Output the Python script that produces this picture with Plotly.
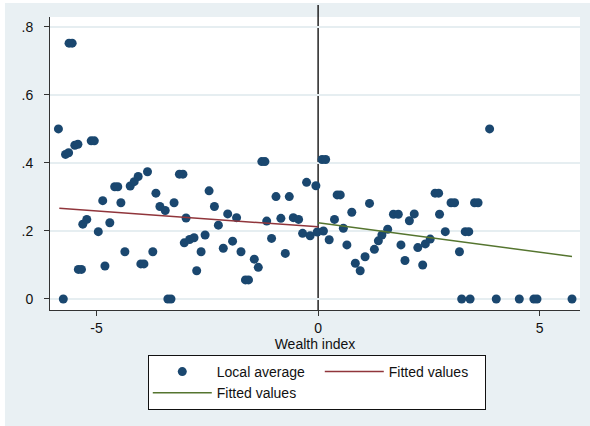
import plotly.graph_objects as go

# Local averages (wealth index, share)
local_x = [-5.86, -5.62, -5.55, -5.75, -5.70, -5.63, -5.49, -5.42, -5.12, -5.05,
           -5.41, -5.34, -5.31, -5.22, -4.96, -4.70, -4.86, -4.81, -4.59, -4.52,
           -4.45, -4.36, -4.24, -4.15, -4.06, -3.85, -4.00, -3.93, -3.73, -3.66,
           -3.57, -3.45, -3.25, -3.13, -3.05, -3.39, -3.32, -2.98, -3.02, -2.90,
           -2.80, -2.74, -2.64, -2.55, -2.46, -2.34, -2.25, -2.14, -2.04, -1.93,
           -1.84, -1.74, -1.64, -1.57, -1.44, -1.35, -1.27, -1.20, -1.16, -1.05,
           -0.95, -0.84, -0.74, -0.65, -0.56, -0.44, -0.35, -0.18, -0.26, -0.05,
           -0.02, 0.12, 0.09, 0.17, 0.25, 0.37, 0.43, 0.50, 0.57, 0.65,
           0.76, 0.84, 0.95, 1.06, 1.16, 1.27, 1.36, 1.44, 1.57, 1.70,
           1.81, 1.87, 1.96, 2.06, 2.17, 2.25, 2.36, 2.42, 2.53, 2.64,
           2.72, 2.74, 2.87, 3.00, 3.08, 3.53, 3.61, 3.32, 3.40, 3.19,
           3.87, 3.24, 3.43, 4.02, 4.54, 4.87, 4.94, 5.73]
local_y = [0.500, 0.752, 0.752, 0.000, 0.425, 0.430, 0.452, 0.455, 0.465, 0.465,
           0.087, 0.087, 0.220, 0.234, 0.198, 0.224, 0.289, 0.097, 0.330, 0.330,
           0.283, 0.139, 0.332, 0.345, 0.360, 0.374, 0.103, 0.103, 0.139, 0.311,
           0.272, 0.260, 0.283, 0.367, 0.367, 0.000, 0.000, 0.238, 0.165, 0.175,
           0.180, 0.083, 0.139, 0.188, 0.318, 0.272, 0.217, 0.149, 0.250, 0.170,
           0.239, 0.139, 0.056, 0.056, 0.117, 0.093, 0.404, 0.404, 0.229, 0.178,
           0.301, 0.237, 0.134, 0.301, 0.239, 0.234, 0.193, 0.186, 0.343, 0.333,
           0.197, 0.200, 0.410, 0.410, 0.174, 0.234, 0.306, 0.306, 0.208, 0.159,
           0.255, 0.105, 0.083, 0.124, 0.281, 0.146, 0.171, 0.188, 0.205, 0.249,
           0.249, 0.159, 0.113, 0.230, 0.250, 0.151, 0.100, 0.162, 0.176, 0.311,
           0.311, 0.249, 0.198, 0.283, 0.283, 0.283, 0.283, 0.198, 0.198, 0.139,
           0.500, 0.000, 0.000, 0.000, 0.000, 0.000, 0.000, 0.000]

# Fitted values (left and right of the cutoff)
fit_left_x = [-5.84, 0.0]
fit_left_y = [0.267, 0.212]
fit_right_x = [0.0, 5.73]
fit_right_y = [0.224, 0.125]

x_tickvals = [-5, 0, 5]
x_ticktext = ["-5", "0", "5"]
y_tickvals = [0, 0.2, 0.4, 0.6, 0.8]
y_ticktext = ["0", ".2", ".4", ".6", ".8"]
cutoff = 0

FONT = "Liberation Sans, Arial, sans-serif"
BG = "#E9F0F3"

fig = go.Figure()
fig.add_trace(go.Scatter(
    x=local_x, y=local_y, mode="markers", name="Local average",
    legendgroup="a",
    marker=dict(color="#1A476F", size=9, symbol="circle", line=dict(width=0)),
))
fig.add_trace(go.Scatter(
    x=fit_left_x, y=fit_left_y, mode="lines", name="Fitted values",
    legendgroup="b", legendwidth=91,
    line=dict(color="#90353B", width=1.5),
))
fig.add_trace(go.Scatter(
    x=fit_right_x, y=fit_right_y, mode="lines", name="Fitted values",
    legendgroup="a",
    line=dict(color="#55752F", width=1.5),
))

fig.update_layout(
    width=590, height=426,
    margin=dict(l=50, r=10, t=17, b=116, autoexpand=False),
    paper_bgcolor="white",
    plot_bgcolor="white",
    font=dict(family=FONT, size=14, color="#111111"),
    showlegend=True,
    legend=dict(
        orientation="h", traceorder="grouped",
        x=0.1845, xanchor="left", y=-0.1536, yanchor="top",
        bgcolor="white", bordercolor="#111111", borderwidth=1,
        itemwidth=59, entrywidth=98, entrywidthmode="pixels",
        tracegroupgap=0,
        font=dict(family=FONT, size=14, color="#111111"),
    ),
    shapes=[
        dict(type="rect", xref="paper", yref="paper", x0=-0.085, x1=1.1, y0=-0.5, y1=1.048,
             fillcolor=BG, line=dict(width=0), layer="below"),
        dict(type="rect", xref="paper", yref="paper", x0=0, x1=1, y0=0, y1=1,
             fillcolor="white", line=dict(width=0), layer="below"),
        dict(type="line", xref="x", yref="paper", x0=cutoff, x1=cutoff, y0=0, y1=1.041,
             line=dict(color="#000000", width=1.3), layer="below"),
    ],
)

fig.update_xaxes(
    range=[-6.05, 5.91], tickvals=x_tickvals, ticktext=x_ticktext,
    showgrid=False, zeroline=False,
    showline=True, linecolor="#333333", linewidth=1,
    ticks="outside", ticklen=5, tickcolor="#333333", tickwidth=1,
    tickfont=dict(family=FONT, size=14, color="#111111"),
    title=dict(text="Wealth index", standoff=0, font=dict(family=FONT, size=14, color="#111111")),
    automargin=False,
)
fig.update_yaxes(
    range=[-0.0324, 0.829], tickvals=y_tickvals, ticktext=y_ticktext,
    showgrid=True, gridcolor="#E6EEF1", gridwidth=1.5, zeroline=False,
    showline=True, linecolor="#333333", linewidth=1,
    ticks="outside", ticklen=5, tickcolor="#333333", tickwidth=1,
    ticklabelstandoff=8,
    tickfont=dict(family=FONT, size=14, color="#111111"),
    automargin=False,
)

fig.write_html("out.html")
